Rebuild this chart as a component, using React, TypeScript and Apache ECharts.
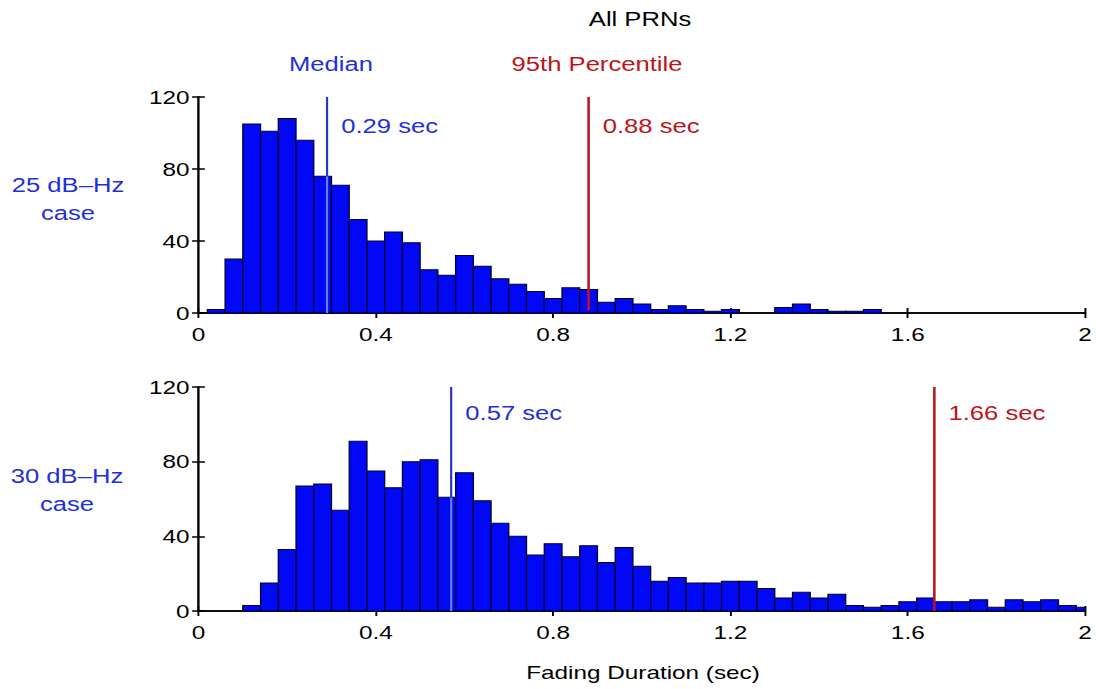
import React, { useEffect, useRef } from "react";
import * as echarts from "echarts";

// ---------- data ----------
const binCenters = [
  0.04, 0.08, 0.12, 0.16, 0.2, 0.24, 0.28, 0.32, 0.36, 0.4,
  0.44, 0.48, 0.52, 0.56, 0.6, 0.64, 0.68, 0.72, 0.76, 0.8,
  0.84, 0.88, 0.92, 0.96, 1.0, 1.04, 1.08, 1.12, 1.16, 1.2,
  1.24, 1.28, 1.32, 1.36, 1.4, 1.44, 1.48, 1.52, 1.56, 1.6,
  1.64, 1.68, 1.72, 1.76, 1.8, 1.84, 1.88, 1.92, 1.96, 2.0,
];
const binWidth = 0.04;

const counts25 = [
  2, 30, 105, 101, 108, 96, 76, 71, 52, 40,
  45, 39, 24, 21, 32, 26, 19, 16, 12, 8,
  14, 13, 6, 8, 5, 2, 4, 2, 1, 2,
  0, 0, 3, 5, 2, 1, 1, 2, 0, 0,
  0, 0, 0, 0, 0, 0, 0, 0, 0, 0,
];
const counts30 = [
  0, 0, 3, 15, 33, 67, 68, 54, 91, 75,
  66, 80, 81, 61, 74, 59, 47, 40, 30, 36,
  29, 35, 26, 34, 24, 16, 18, 15, 15, 16,
  16, 12, 7, 10, 7, 9, 3, 2, 3, 5,
  7, 5, 5, 6, 2, 6, 5, 6, 3, 2,
];

const median25 = 0.29;
const pct95_25 = 0.88;
const median30 = 0.57;
const pct95_30 = 1.66;

const xMin = 0;
const xMax = 2;
const xStep = 0.4;
const yMin = 0;
const yMax = 120;
const yStep = 40;

const titleText = "All PRNs";
const medianText = "Median";
const pctText = "95th Percentile";
const case25Lines = ["25 dB\u2013Hz", "case"];
const case30Lines = ["30 dB\u2013Hz", "case"];
const xAxisTitle = "Fading Duration (sec)";

// ---------- styles ----------
const SX = 1.28; // horizontal stretch of the reference picture
const FONT = "'Liberation Sans', Arial, Helvetica, sans-serif";
const BAR_FILL = "#0008f6";
const BAR_EDGE = "#00002e";
const BLUE_TEXT = "#1f2fdc";
const BLUE_LINE = "#2236d0";
const BLUE_LINE_IN = "#5f80ff";
const RED = "#bd141a";
const px = (v: number) => v / SX;

function heightAt(x: number, counts: number[]) {
  let best = 0;
  let d = Infinity;
  binCenters.forEach((c, i) => {
    const dd = Math.abs(c - x);
    if (dd < d) {
      d = dd;
      best = i;
    }
  });
  return counts[best];
}

function makeAxes(gridIndex: number) {
  const common = {
    gridIndex,
    type: "value" as const,
    axisLine: { show: true, lineStyle: { color: "#000", width: 1.5 } },
    axisTick: { show: true, inside: true, length: 5, lineStyle: { color: "#000", width: 1.5 } },
    splitLine: { show: false },
  };
  const xa = [
    {
      ...common,
      min: xMin,
      max: xMax,
      interval: xStep,
      position: "bottom",
      axisLabel: { show: true, color: "#000", fontSize: 19, fontFamily: FONT, margin: 12 },
    },
    {
      ...common,
      min: xMin,
      max: xMax,
      interval: xStep,
      position: "top",
      axisLabel: { show: false },
    },
  ];
  const ya = [
    {
      ...common,
      min: yMin,
      max: yMax,
      interval: yStep,
      position: "left",
      axisLabel: { show: true, color: "#000", fontSize: 19, fontFamily: FONT, margin: 7 },
    },
    {
      ...common,
      min: yMin,
      max: yMax,
      interval: yStep,
      position: "right",
      axisLabel: { show: false },
    },
  ];
  return { xa, ya };
}

function histSeries(axisIndex: number, counts: number[]) {
  return {
    type: "custom",
    xAxisIndex: axisIndex,
    yAxisIndex: axisIndex,
    silent: true,
    data: binCenters.map((c, i) => [c, counts[i]]),
    renderItem: (params: any, api: any) => {
      const c = api.value(0);
      const v = api.value(1);
      if (!v) return null;
      const p0 = api.coord([c - binWidth / 2, v]);
      const p1 = api.coord([c + binWidth / 2, 0]);
      const cs = params.coordSys;
      const shape = echarts.graphic.clipRectByRect(
        { x: p0[0], y: p0[1], width: p1[0] - p0[0], height: p1[1] - p0[1] },
        { x: cs.x, y: cs.y, width: cs.width, height: cs.height }
      );
      if (!shape) return null;
      return {
        type: "rect",
        shape,
        style: { fill: BAR_FILL, stroke: BAR_EDGE, lineWidth: 1 },
      };
    },
  };
}

function vline(axisIndex: number, x: number, y0: number, y1: number, color: string, width: number) {
  return {
    type: "line",
    xAxisIndex: axisIndex,
    yAxisIndex: axisIndex,
    silent: true,
    symbol: "none",
    data: [
      [x, y0],
      [x, y1],
    ],
    lineStyle: { color, width },
    z: 5,
  };
}

function valueLabel(axisIndex: number, x: number, y: number, color: string) {
  return {
    type: "scatter",
    xAxisIndex: axisIndex,
    yAxisIndex: axisIndex,
    silent: true,
    symbol: "rect",
    symbolSize: 0.1,
    itemStyle: { color: "rgba(0,0,0,0)", opacity: 1 },
    data: [[x, y]],
    label: {
      show: true,
      position: "right",
      distance: 11,
      formatter: () => `${x.toFixed(2)} sec`,
      color,
      opacity: 1,
      fontSize: 20,
      fontFamily: FONT,
    },
    z: 6,
  };
}

function text(x: number, y: number, t: string, color: string, size = 20) {
  return {
    type: "text",
    x: px(x),
    y,
    style: {
      text: t,
      fill: color,
      fontSize: size,
      fontFamily: FONT,
      align: "center",
      verticalAlign: "middle",
    },
  };
}

export default function App() {
  const ref = useRef<HTMLDivElement>(null);

  useEffect(() => {
    document.body.style.margin = "0";
    if (!ref.current) return;
    const chart = echarts.init(ref.current, null, { renderer: "svg" });

    const a0 = makeAxes(0);
    const a1 = makeAxes(1);
    const h25 = heightAt(median25, counts25);
    const h30 = heightAt(median30, counts30);

    chart.setOption({
      animation: false,
      backgroundColor: "#fff",
      grid: [
        { left: px(198.5), top: 97, width: px(889), height: 216 },
        { left: px(198.5), top: 387, width: px(889), height: 224 },
      ],
      xAxis: [...a0.xa, ...a1.xa],
      yAxis: [...a0.ya, ...a1.ya],
      series: [
        histSeries(0, counts25),
        vline(0, median25, yMin, h25, BLUE_LINE_IN, 1.7),
        vline(0, median25, h25, yMax, BLUE_LINE, 1.7),
        vline(0, pct95_25, yMin + 1.5, yMax, RED, 2),
        valueLabel(0, median25, 104, BLUE_TEXT),
        valueLabel(0, pct95_25, 104, RED),

        histSeries(2, counts30),
        vline(2, median30, yMin, h30, BLUE_LINE_IN, 1.7),
        vline(2, median30, h30, yMax, BLUE_LINE, 1.7),
        vline(2, pct95_30, yMin, yMax, RED, 2),
        valueLabel(2, median30, 106, BLUE_TEXT),
        valueLabel(2, pct95_30, 106, RED),
      ],
      graphic: [
        text(640, 19, titleText, "#000"),
        text(331, 64, medianText, BLUE_TEXT),
        text(597, 64, pctText, RED),
        text(68, 185, case25Lines[0], BLUE_TEXT),
        text(68, 213, case25Lines[1], BLUE_TEXT),
        text(67, 476, case30Lines[0], BLUE_TEXT),
        text(67, 504, case30Lines[1], BLUE_TEXT),
        text(643, 672, xAxisTitle, "#000", 19),
      ],
    });

    return () => chart.dispose();
  }, []);

  return (
    <div style={{ width: 1096, height: 689, overflow: "hidden", position: "relative", background: "#fff" }}>
      <div
        ref={ref}
        style={{
          width: 1096 / SX,
          height: 689,
          transform: `scaleX(${SX})`,
          transformOrigin: "0 0",
        }}
      />
    </div>
  );
}
